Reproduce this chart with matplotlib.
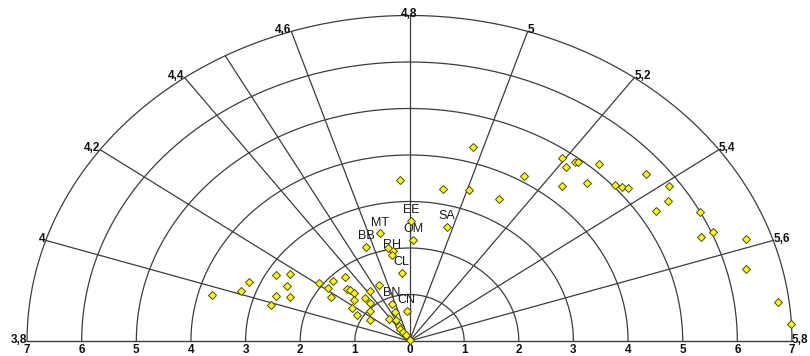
import numpy as np
import matplotlib
matplotlib.use("Agg")
import matplotlib.pyplot as plt

# ---- axis definitions ----
radial_ticks = [1, 2, 3, 4, 5, 6, 7]
angle_values = [3.8, 4.0, 4.2, 4.4, 4.6, 4.8, 5.0, 5.2, 5.4, 5.6, 5.8]
angle_labels = ["3,8", "4", "4,2", "4,4", "4,6", "4,8", "5", "5,2", "5,4", "5,6", "5,8"]
reference_value = 4.48
v_min, v_max = 3.8, 5.8

# ---- unlabeled points (x = horizontal, y = vertical, data units) ----
pts_x = [1.157, 2.785, 2.859, 3.029, 3.078, 3.474, 2.096, 4.328, 2.785, 3.252,
         0.617, 1.083, 1.647, 3.761, 3.884, 3.999, 4.753, 4.725, 4.508, 5.317,
         5.560, 5.344, 6.155, 6.155, 6.740, 6.991, -0.174,
         -0.388, -0.307,
         -3.620, -3.078, -2.932, -2.438, -2.193, -2.247, -2.438, -2.187, -2.538,
         -1.651, -1.406, -1.180, -1.497, -1.446, -1.149, -1.083, -1.016, -0.714,
         -0.567, -1.010, -0.814, -0.717, -1.058, -0.952, -0.717, -0.717,
         -0.265, -0.375, -0.242, -0.201, -0.165, -0.128, -0.073, 0.000]
pts_y = [4.178, 3.929, 3.742, 3.856, 3.839, 3.811, 3.538, 3.591, 3.340, 3.391,
         3.262, 3.243, 3.043, 3.344, 3.318, 3.297, 3.340, 3.000, 2.796, 2.774,
         2.338, 2.232, 2.183, 1.542, 0.828, 0.359, 3.462,
         1.994, 1.929,
         0.996, 1.075, 1.273, 1.409, 1.437, 1.189, 0.972, 0.951, 0.781,
         1.241, 1.295, 1.366, 1.146, 0.953, 1.112, 1.103, 1.026, 1.075,
         1.194, 0.875, 0.918, 0.824, 0.699, 0.566, 0.649, 0.458,
         0.613, 0.467, 0.441, 0.333, 0.252, 0.187, 0.129, 0.022]

# ---- labeled points ----
lab_names = ["EE", "OM", "SA", "MT", "BB", "RH", "CL", "BN", "CN"]
lab_x = [0.027, 0.070, 0.686, -0.540, -0.796, -0.315, -0.143, -0.320, -0.051]
lab_y = [2.581, 2.178, 2.452, 2.316, 2.028, 1.839, 1.469, 0.806, 0.652]

R = max(radial_ticks)
GRID = "#3c3c3c"
FONT = "Liberation Sans"


def theta(v):
    return np.pi * (v_max - v) / (v_max - v_min)


fig = plt.figure(figsize=(8.1, 3.56), dpi=100)
ax = fig.add_axes([0, 0, 1, 1])
ax.set_xlim(-7.495, 7.330)
ax.set_ylim(-0.3226, 7.333)
ax.axis("off")

# arcs
t = np.linspace(0, np.pi, 400)
for r in radial_ticks:
    ax.plot(r * np.cos(t), r * np.sin(t), color=GRID, lw=0.9, zorder=1)

# spokes
for v in angle_values[1:-1] + [reference_value]:
    th = theta(v)
    ax.plot([0, R * np.cos(th)], [0, R * np.sin(th)], color=GRID, lw=0.9, zorder=1)

# baseline
ax.plot([-R, R], [0, 0], color=GRID, lw=1.0, zorder=1)

# bottom tick labels
for r in [-7, -6, -5, -4, -3, -2, -1, 0, 1, 2, 3, 4, 5, 6, 7]:
    ax.text(r, -0.07, str(abs(r)), ha="center", va="top", fontsize=8.5,
            fontweight="bold", family=FONT, color="#111111")

# angle labels
for v, lab in zip(angle_values, angle_labels):
    th = theta(v)
    x, y = R * np.cos(th), R * np.sin(th)
    deg = np.degrees(th)
    if abs(deg - 90) < 0.5:
        ha = "center"
    elif deg > 90:
        ha = "right"
    else:
        ha = "left"
    ax.text(x, y + 0.03, lab, ha=ha, va="center", fontsize=8.5,
            fontweight="bold", family=FONT, color="#111111")

# points
all_x = pts_x + lab_x
all_y = pts_y + lab_y
ax.plot(all_x, all_y, "D", ms=3.9, mfc="#ffff00", mec="#4a4a10", mew=0.7,
        zorder=4, linestyle="none")

# point labels
for name, x, y in zip(lab_names, lab_x, lab_y):
    ax.annotate(name, (x, y), xytext=(0, 7.6), textcoords="offset points",
                ha="center", va="center", fontsize=9, family=FONT,
                color="#1a1a1a", zorder=3)

fig.savefig("out.png", dpi=100)
